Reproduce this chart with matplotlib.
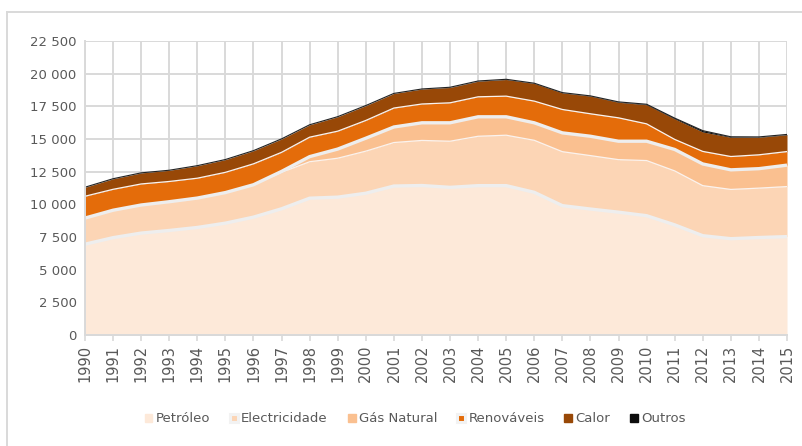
import numpy as np
import matplotlib
matplotlib.use('Agg')
from matplotlib import pyplot as plt
from matplotlib.patches import Patch
from matplotlib.lines import Line2D
from matplotlib.ticker import FuncFormatter

years = list(range(1990, 2016))

petroleo = [6950, 7450, 7800, 8000, 8230, 8560, 9020, 9660, 10470, 10550, 10850, 11400, 11440,
            11300, 11430, 11430, 10920, 9900, 9640, 9400, 9130, 8430, 7600, 7370, 7460, 7530]
electricidade = [2000, 2100, 2150, 2200, 2250, 2340, 2480, 2790, 2790, 2980, 3220, 3330, 3450,
                 3530, 3780, 3860, 3980, 4130, 4090, 4020, 4220, 4130, 3830, 3770, 3780, 3830]
gas_natural = [0, 0, 0, 0, 0, 0, 0, 70, 390, 700, 990, 1190, 1350,
               1410, 1490, 1410, 1340, 1440, 1480, 1410, 1480, 1640, 1660, 1500, 1490, 1640]
renovaveis = [1670, 1600, 1610, 1550, 1520, 1550, 1600, 1460, 1490, 1370, 1360, 1450, 1440,
              1530, 1530, 1580, 1660, 1790, 1720, 1790, 1330, 770, 960, 1020, 1060, 1040]
calor = [680, 800, 840, 850, 950, 970, 1000, 1020, 940, 1100, 1130, 1110, 1140,
         1170, 1190, 1270, 1350, 1270, 1350, 1190, 1460, 1570, 1490, 1470, 1340, 1280]
outros = [10, 10, 10, 10, 10, 10, 10, 10, 10, 10, 10, 10, 10,
          20, 20, 20, 20, 20, 20, 30, 40, 60, 100, 40, 30, 30]

labels = ['Petróleo', 'Electricidade', 'Gás Natural', 'Renováveis', 'Calor', 'Outros']
colors = ['#fde9d9', '#fcd5b5', '#fac090', '#e46c0a', '#984807', '#0d0d0d']
series = [petroleo, electricidade, gas_natural, renovaveis, calor, outros]

fig = plt.figure(figsize=(8.03, 4.46), dpi=100)
ax = fig.add_axes([85 / 803, 1 - 335 / 446, (787 - 85) / 803, (335 - 41) / 446])

x = np.array(years)
cum = np.zeros(len(years))
tops = []
for vals, col in zip(series, colors):
    top = cum + np.array(vals)
    ax.fill_between(x, cum, top, color=col, linewidth=0, zorder=2)
    tops.append(top)
    cum = top

# separation lines between the layers
ax.plot(x, tops[0], color='#eeeeee', lw=2.4, zorder=3, solid_capstyle='butt')
ax.plot(x, tops[1], color='#fbf3ee', lw=0.9, zorder=3)
ax.plot(x, tops[2], color='#eeeeee', lw=2.4, zorder=3, solid_capstyle='butt')
ax.plot(x, tops[3], color='#fbf3ee', lw=0.9, zorder=3)
ax.plot(x, tops[5], color='#222222', lw=0.8, zorder=3)

ax.set_xlim(1990, 2015)
ax.set_ylim(0, 22500)
ax.set_xticks(years)
ax.set_xticklabels([str(y) for y in years], rotation=90)
ax.set_yticks(np.arange(0, 22501, 2500))
ax.yaxis.set_major_formatter(FuncFormatter(lambda v, p: f'{int(v):,}'.replace(',', ' ')))

ax.grid(True, color='#d9d9d9', lw=1.4, zorder=1)
ax.set_axisbelow(True)
for s in ['top', 'right']:
    ax.spines[s].set_visible(False)
for s in ['left', 'bottom']:
    ax.spines[s].set_color('#d9d9d9')
    ax.spines[s].set_linewidth(1.4)
    ax.spines[s].set_zorder(4)
ax.tick_params(axis='y', length=0, pad=6, labelsize=9.5, labelcolor='#595959')
ax.tick_params(axis='x', length=4, color='#d9d9d9', width=1.2, pad=3,
               labelsize=10.5, labelcolor='#595959')

handles = [
    Patch(facecolor=colors[0], edgecolor=colors[0]),
    Patch(facecolor=colors[1], edgecolor='#f2f2f2', linewidth=2.2),
    Patch(facecolor=colors[2], edgecolor=colors[2]),
    Patch(facecolor=colors[3], edgecolor='#f2f2f2', linewidth=2.2),
    Patch(facecolor=colors[4], edgecolor=colors[4]),
    Patch(facecolor=colors[5], edgecolor=colors[5]),
]
fig.legend(handles, labels, loc='center', bbox_to_anchor=(0.517, 1 - 419 / 446), ncol=6,
           frameon=False, fontsize=9.5, labelcolor='#595959', handlelength=0.6,
           handleheight=0.6, handletextpad=0.25, columnspacing=1.5)

# chart border (top and left edges visible)
fig.add_artist(Line2D([7.5 / 803, 1], [1 - 11.5 / 446] * 2, color='#d9d9d9', lw=1.4))
fig.add_artist(Line2D([7.5 / 803] * 2, [0, 1 - 11.5 / 446], color='#d9d9d9', lw=1.4))

fig.savefig('out.png', dpi=100)
